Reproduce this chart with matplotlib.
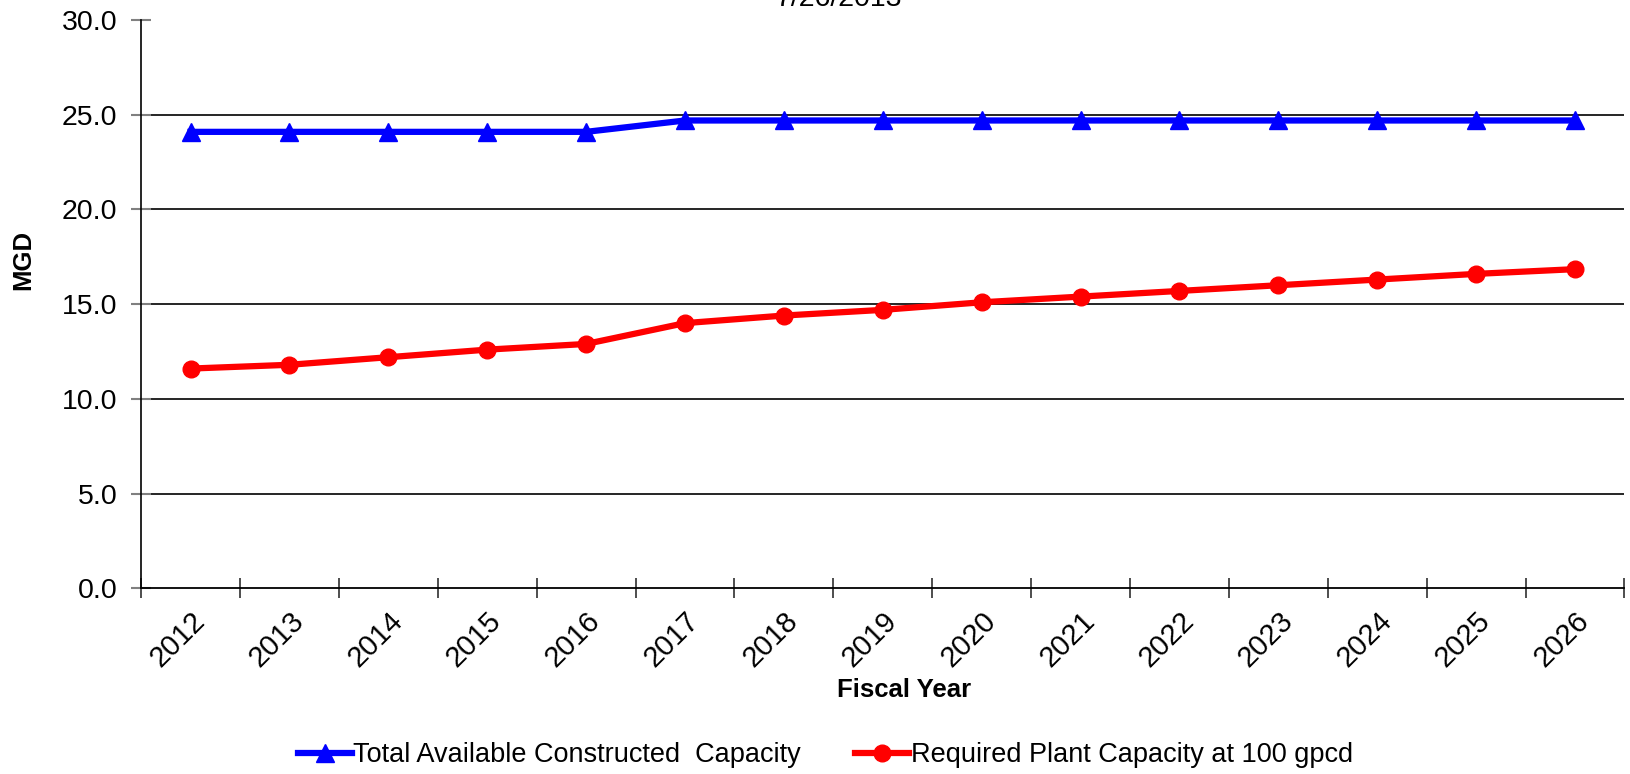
import matplotlib
matplotlib.use("Agg")
import matplotlib.pyplot as plt
from matplotlib.lines import Line2D

plt.rcParams['font.family'] = ['Liberation Sans', 'DejaVu Sans']

years = ['2012', '2013', '2014', '2015', '2016', '2017', '2018', '2019',
         '2020', '2021', '2022', '2023', '2024', '2025', '2026']
total_capacity = [24.1, 24.1, 24.1, 24.1, 24.1, 24.7, 24.7, 24.7,
                  24.7, 24.7, 24.7, 24.7, 24.7, 24.7, 24.7]
required_capacity = [11.6, 11.8, 12.2, 12.6, 12.9, 14.0, 14.4, 14.7,
                     15.1, 15.4, 15.7, 16.0, 16.3, 16.6, 16.85]
y_ticks = [0, 5, 10, 15, 20, 25, 30]
date_label = '7/26/2013'

fig = plt.figure(figsize=(16.31, 7.74), dpi=100)
ax = fig.add_axes([0.0865, 0.240, 0.9095, 0.734])

x = list(range(len(years)))
ax.plot(x, total_capacity, color='#0000FF', lw=4.5, marker='^', ms=13,
        solid_joinstyle='round', zorder=3)
ax.plot(x, required_capacity, color='#FF0000', lw=4.5, marker='o', ms=12,
        solid_joinstyle='round', zorder=3)

ax.set_xlim(-0.5, len(years) - 0.5)
ax.set_ylim(0, 30)
ax.set_yticks(y_ticks)
ax.set_yticklabels([f'{v:.1f}' for v in y_ticks], fontsize=20.5)
for v in y_ticks[1:-1]:
    ax.axhline(v, color='black', lw=1.2, zorder=1)

# category ticks sit between the years, labels at the year centres
ax.set_xticks([i - 0.5 for i in range(len(years) + 1)])
ax.set_xticklabels([])
ax.set_xticks(x, minor=True)
ax.set_xticklabels(years, minor=True, rotation=45, ha='right',
                   rotation_mode='anchor', fontsize=21)
ax.tick_params(axis='x', which='minor', length=0, pad=13)
ax.tick_params(axis='x', which='major', direction='inout', length=14,
               color='#404040', width=1.3)
ax.tick_params(axis='y', direction='inout', length=14, color='#808080',
               width=1.5, pad=10)

for s in ['top', 'right']:
    ax.spines[s].set_visible(False)
ax.spines['left'].set_color('black')
ax.spines['left'].set_linewidth(1.2)
ax.spines['bottom'].set_color('black')
ax.spines['bottom'].set_linewidth(1.3)

fig.text(0.0145, 0.664, 'MGD', rotation=90, fontsize=18.5, fontweight='bold',
         ha='center', va='center')
fig.text(0.554, 0.108, 'Fiscal Year', fontsize=18.5, fontweight='bold',
         ha='center', va='center')
fig.text(0.514, 1 - 6 / 774, date_label, fontsize=20.5, ha='center',
         va='baseline')

handles = [
    Line2D([], [], color='#0000FF', lw=4.5, marker='^', ms=13),
    Line2D([], [], color='#FF0000', lw=4.5, marker='o', ms=12),
]
fig.legend(handles, ['Total Available Constructed  Capacity',
                     'Required Plant Capacity at 100 gpcd'],
           loc='center', bbox_to_anchor=(0.506, 0.024), ncol=2, frameon=False,
           fontsize=19.5, handlelength=2.0, handletextpad=0.05,
           columnspacing=2.0)

fig.savefig('out.png', dpi=100)
